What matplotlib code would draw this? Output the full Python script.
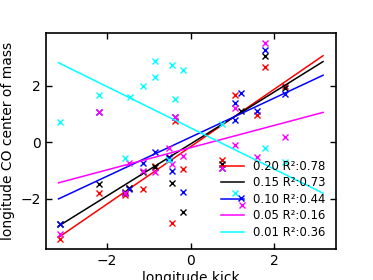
import numpy as np
import matplotlib
matplotlib.use("Agg")
from matplotlib import pyplot as plt

# series names (legend) and fit quality
names = ["0.20", "0.15", "0.10", "0.05", "0.01"]
r2 = [0.78, 0.73, 0.44, 0.16, 0.36]
colors = ["#ff0000", "#000000", "#0000ff", "#ff00ff", "#00ffff"]

# linear fit: slope, intercept
slopes = [1.014, 0.918, 0.69, 0.393, -0.728]
intercepts = [-0.156, -0.06, 0.18, -0.19, 0.51]
fit_range = [-3.16, 3.17]

# scattered points per series
x_red = [-3.13, -2.19, -1.58, -1.47, -1.13, -0.85, -0.45, -0.38, -0.17, 0.75, 1.07, 1.60, 1.77, 2.27]
y_red = [-3.41, -1.80, -1.85, -1.62, -1.66, -0.84, -2.84, 0.75, -0.94, -0.62, 1.67, 0.96, 2.67, 1.98]

x_black = [-3.13, -2.19, -1.58, -1.47, -1.13, -0.85, -0.52, -0.45, -0.17, 0.75, 1.20, 1.77, 2.27]
y_black = [-2.88, -1.48, -1.75, -1.62, -1.04, -0.88, -0.51, -1.43, -2.45, -0.76, 1.12, 3.06, 1.93]

x_blue = [-3.13, -2.19, -1.58, -1.47, -1.13, -0.85, -0.52, -0.45, -0.38, -0.17, 0.75, 1.07, 1.07, 1.20, 1.20, 1.60, 1.77, 2.27]
y_blue = [-2.88, 1.08, -1.80, -1.66, -0.74, -0.33, -0.54, -1.02, 0.88, -1.77, -0.90, 1.38, 0.80, -1.98, 1.73, 1.10, 3.26, 1.70]

x_mag = [-3.13, -2.19, -1.58, -1.47, -1.13, -0.85, -0.52, -0.45, -0.38, -0.17, 0.75, 1.07, 1.07, 1.22, 1.60, 1.77, 2.27]
y_mag = [-3.24, 1.08, -1.80, -0.72, -1.00, -1.04, -0.19, -0.77, 0.88, -0.47, -0.90, 1.22, -0.10, -2.21, -0.51, 3.49, 0.20]

x_cyan = [-3.13, -2.19, -1.58, -1.46, -1.13, -0.85, -0.84, -0.52, -0.45, -0.38, -0.17, 0.75, 1.07, 1.77, 2.27]
y_cyan = [0.71, 1.68, -0.57, 1.59, 1.98, 2.86, 2.30, -0.62, 2.73, 1.52, 2.56, 0.65, -1.78, -0.19, -0.68]

xs = [x_red, x_black, x_blue, x_mag, x_cyan]
ys = [y_red, y_black, y_blue, y_mag, y_cyan]

fig = plt.figure(figsize=(3.73, 2.80), dpi=100)
ax = fig.add_axes([0.1233, 0.1107, 0.7775, 0.7714])

xf = np.linspace(fit_range[0], fit_range[1], 50)
for i in range(len(names)):
    ax.plot(xs[i], ys[i], "x", color=colors[i], markersize=4.5, markeredgewidth=1.0)
    ax.plot(xf, slopes[i] * xf + intercepts[i], "-", color=colors[i], lw=1.1,
            label="%s R\u00b2:%.2f" % (names[i], r2[i]))

ax.set_xlim(-3.46, 3.48)
ax.set_ylim(-3.77, 3.86)
ax.set_xticks([-2, 0, 2])
ax.set_yticks([-2, 0, 2])
ax.tick_params(direction="in", top=True, right=True, length=4.5, width=1.0, labelsize=10)
for s in ax.spines.values():
    s.set_linewidth(1.2)

ax.set_xlabel("longitude kick", fontsize=10, labelpad=2)
ax.set_ylabel("longitude CO center of mass", fontsize=10)

ax.legend(loc="lower right", frameon=False, fontsize="small", labelspacing=0.3)

fig.savefig("out.png", dpi=100)
